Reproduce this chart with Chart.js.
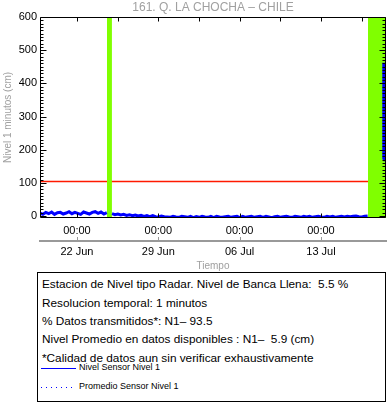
<!DOCTYPE html>
<html><head><meta charset="utf-8">
<script src="https://cdn.jsdelivr.net/npm/chart.js@4.4.1/dist/chart.umd.min.js"></script>
<style>
html,body{margin:0;padding:0;background:#fff;width:388px;height:404px;overflow:hidden;font-family:"Liberation Sans",Arial,sans-serif;}
#wrap{position:absolute;left:0;top:0;width:388px;height:272px;}
#box{position:absolute;left:37px;top:272px;width:347px;height:128px;border:1px solid #000;color:#000;}
.ln{position:absolute;left:4px;font-size:11.8px;line-height:18px;white-space:pre;}
.lg{position:absolute;left:41px;font-size:9px;line-height:12px;white-space:pre;}
.solid{position:absolute;left:3px;width:35px;height:1px;background:#0000ff;}
.dot{position:absolute;left:3px;width:35px;height:1px;background:repeating-linear-gradient(to right,#0000ff 0 1px,transparent 1px 5px);}
</style>
</head><body>
<div id="wrap"><canvas id="c" width="388" height="272"></canvas></div>
<div id="box">
  <div class="ln" style="top:2px">Estacion de Nivel tipo Radar. Nivel de Banca Llena:  5.5 %</div>
  <div class="ln" style="top:20.5px">Resolucion temporal: 1 minutos</div>
  <div class="ln" style="top:39px">% Datos transmitidos*: N1– 93.5</div>
  <div class="ln" style="top:57.3px">Nivel Promedio en datos disponibles : N1–  5.9 (cm)</div>
  <div class="ln" style="top:75.6px">*Calidad de datos aun sin verificar exhaustivamente</div>
  <div class="solid" style="top:95px"></div>
  <div class="lg" style="top:87.5px">Nivel Sensor Nivel 1</div>
  <div class="dot" style="top:113.5px"></div>
  <div class="lg" style="top:106.5px">Promedio Sensor Nivel 1</div>
</div>
<script>
// ---- data (x in days since 18 Jun 00:00) ----
const titleText = '161. Q. LA CHOCHA – CHILE';
const xTickDays = [4, 11, 18, 25];
const xTickTimes = ['00:00', '00:00', '00:00', '00:00'];
const xTickDates = ['22 Jun', '29 Jun', '06 Jul', '13 Jul'];
const topTickDays = [4, 7.5, 11, 14.5, 18, 21.5, 25, 28.5];
const yTicks = [0, 100, 200, 300, 400, 500, 600];
const xMin = 0.82, xMax = 30.6;
const yMin = -6, yMax = 600;
const seg1Start = 0.82, seg2Start = 7.02, sampleStep = 0.25;
const seg1Values = [9, 5, 11, 7, 12, 5, 10, 11, 6, 9, 13, 7, 11, 8, 5, 12, 9, 6, 11, 13, 8, 12, 6, 10];
const seg2Values = [7, 4, 6, 3, 5, 2, 4, 1, 3, 0,
  2, -1, 1, -2, 1, -2, -3, 0, -2, -3,
  -4, -1, -3, -4, -1, -2, -4, -1, -5, -2,
  -4, -1, -3, -4, -1, -5, -1, -3, -4, -2,
  -1, -4, -2, -1, -5, -1, -4, -2, -1, -4,
  -2, -1, -4, -1, -3, -5, -2, -1, -4, -2,
  -1, -3, -4, -1, -2, -4, -1, -3, -1, -4,
  -2, -1, -3, -4, -1, -3, -1, -4, -2, -1,
  -3, -1, -2, -1, 0, -2, -3, -1, 0];
const spikeDays = [30.38, 30.41, 30.44, 30.47, 30.5];
const spikeValues = [170, 462, 205, 440, 165];
const gapBands = [[6.58, 7.01], [29.04, 30.6]];
const bankLevel = 104;

const levelData = [];
seg1Values.forEach((v, i) => levelData.push({x: seg1Start + i * sampleStep, y: v}));
levelData.push({x: 6.8, y: null});
seg2Values.forEach((v, i) => levelData.push({x: seg2Start + i * sampleStep, y: v}));
levelData.push({x: 29.8, y: null});
spikeDays.forEach((d, i) => levelData.push({x: d, y: spikeValues[i]}));

const GREEN = '#80ff00', BLUE = '#0000ff', RED = '#ff1a00', GRAY = '#a0a0a0';
Chart.defaults.font.family = '"Liberation Sans", Arial, sans-serif';
Chart.defaults.color = '#000';

const datasets = [
  {label: 'Nivel Sensor Nivel 1', data: levelData, borderColor: BLUE, borderWidth: 3,
   pointRadius: 0, spanGaps: false, order: 0, tension: 0},
];
gapBands.forEach(b => datasets.push({label: 'gap', data: [{x: b[0], y: yMax}, {x: b[1], y: yMax}],
  borderWidth: 0, borderColor: GREEN, backgroundColor: GREEN, pointRadius: 0, fill: {value: yMin}, order: 1}));
datasets.push({label: 'Banca llena', data: [{x: xMin, y: bankLevel}, {x: xMax, y: bankLevel}],
  borderColor: RED, borderWidth: 1.6, pointRadius: 0, order: 2});

const framePlugin = {
  id: 'frame',
  afterDatasetsDraw(chart) {
    const {ctx, chartArea: a, scales: {x, y, x2}} = chart;
    ctx.save();
    ctx.strokeStyle = '#000'; ctx.lineWidth = 1;
    ctx.beginPath();
    const L = Math.round(a.left) + 0.5, R = Math.round(a.right) - 0.5;
    const T = Math.round(a.top) + 0.5, B = Math.round(a.bottom) - 0.5;
    ctx.rect(L, T, R - L, B - T);
    for (let v = 0; v <= yMax; v += 10) {
      const py = Math.round(y.getPixelForValue(v)) + 0.5;
      const len = (v % 100 === 0) ? 6 : 3;
      ctx.moveTo(L, py); ctx.lineTo(L + len, py);
      ctx.moveTo(R, py); ctx.lineTo(R - len, py);
    }
    topTickDays.forEach(d => {
      const px = Math.round(x.getPixelForValue(d)) + 0.5;
      ctx.moveTo(px, T); ctx.lineTo(px, T + 4);
    });
    xTickDays.forEach(d => {
      const px = Math.round(x.getPixelForValue(d)) + 0.5;
      ctx.moveTo(px, B); ctx.lineTo(px, B - 4);
    });
    ctx.stroke();
    ctx.strokeStyle = '#999';
    ctx.beginPath();
    xTickDays.forEach(d => {
      const px = Math.round(x2.getPixelForValue(d)) + 0.5;
      ctx.moveTo(px, x2.top); ctx.lineTo(px, x2.top - 4);
    });
    ctx.stroke();
    ctx.restore();
  }
};

new Chart(document.getElementById('c'), {
  type: 'line',
  data: {datasets},
  options: {
    responsive: false, animation: false, events: [],
    layout: {padding: {left: 0, right: 2, top: 0, bottom: 0}},
    plugins: {
      legend: {display: false}, tooltip: {enabled: false},
      title: {display: true, text: titleText, color: GRAY, fullSize: false,
        font: {size: 12, weight: 'normal'}, padding: {top: 0, bottom: 2.6}}
    },
    scales: {
      x: {type: 'linear', position: 'bottom', min: xMin, max: xMax,
        afterBuildTicks: s => { s.ticks = xTickDays.map(v => ({value: v})); },
        afterFit: s => { s.height = 23; },
        grid: {display: false, drawTicks: false}, border: {display: false},
        ticks: {callback: (v, i) => xTickTimes[i], font: {size: 11}, padding: 6, maxRotation: 0, autoSkip: false}},
      x2: {type: 'linear', position: 'bottom', min: xMin, max: xMax,
        afterBuildTicks: s => { s.ticks = xTickDays.map(v => ({value: v})); },
        afterFit: s => { s.height = 31; },
        grid: {display: false, drawTicks: false}, border: {display: true, color: '#999', width: 2},
        ticks: {callback: (v, i) => xTickDates[i], font: {size: 11}, padding: 4, maxRotation: 0, autoSkip: false},
        title: {display: true, text: 'Tiempo', color: GRAY, font: {size: 10}, padding: 0}},
      y: {type: 'linear', min: yMin, max: yMax,
        afterBuildTicks: s => { s.ticks = yTicks.map(v => ({value: v})); },
        afterFit: s => { s.width = 40; },
        grid: {display: false, drawTicks: false}, border: {display: false},
        ticks: {font: {size: 11}, padding: 3},
        title: {display: true, text: 'Nivel 1 minutos (cm)', color: GRAY, font: {size: 10}, padding: {top: 2, bottom: 0}}}
    }
  },
  plugins: [framePlugin]
});
</script>
</body></html>
